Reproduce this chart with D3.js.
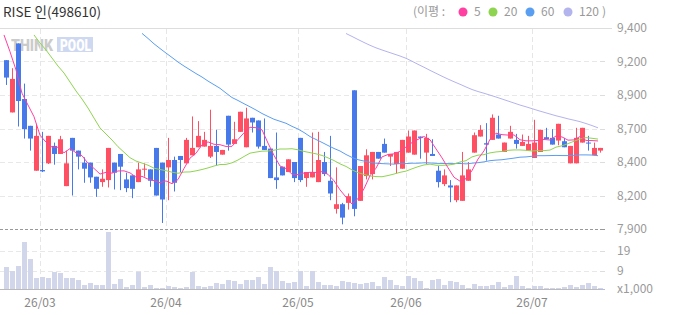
<!DOCTYPE html>
<html>
<head>
<meta charset="utf-8">
<script src="https://cdn.jsdelivr.net/npm/d3@7"></script>
<style>
  html, body { margin: 0; padding: 0; background: #fff; }
  svg { display: block; font-family: "Noto Sans CJK KR", "Noto Sans", sans-serif; }
</style>
</head>
<body>
<svg id="chart" width="673" height="315"></svg>
<script>
// trading days shown on the chart
const dates = [
  "2026-02-20","2026-02-23","2026-02-24","2026-02-25","2026-02-26","2026-02-27",
  "2026-03-03","2026-03-04","2026-03-05","2026-03-06","2026-03-09","2026-03-10","2026-03-11","2026-03-12","2026-03-13","2026-03-16","2026-03-17","2026-03-18","2026-03-19","2026-03-20","2026-03-23","2026-03-24","2026-03-25","2026-03-26","2026-03-27","2026-03-30","2026-03-31",
  "2026-04-01","2026-04-02","2026-04-03","2026-04-06","2026-04-07","2026-04-08","2026-04-09","2026-04-10","2026-04-13","2026-04-14","2026-04-15","2026-04-16","2026-04-17","2026-04-20","2026-04-21","2026-04-22","2026-04-23","2026-04-24","2026-04-27","2026-04-28","2026-04-29","2026-04-30",
  "2026-05-04","2026-05-06","2026-05-07","2026-05-08","2026-05-11","2026-05-12","2026-05-13","2026-05-14","2026-05-15","2026-05-18","2026-05-19","2026-05-20","2026-05-21","2026-05-22","2026-05-26","2026-05-27","2026-05-28","2026-05-29",
  "2026-06-01","2026-06-02","2026-06-04","2026-06-05","2026-06-08","2026-06-09","2026-06-10","2026-06-11","2026-06-12","2026-06-15","2026-06-16","2026-06-17","2026-06-18","2026-06-19","2026-06-22","2026-06-23","2026-06-24","2026-06-25","2026-06-26","2026-06-29","2026-06-30",
  "2026-07-01","2026-07-02","2026-07-03","2026-07-06","2026-07-07","2026-07-08","2026-07-09","2026-07-10","2026-07-13","2026-07-14","2026-07-15","2026-07-16"
];

const opens = [
  9160,8770,9285,8870,8670,8335,8340,8390,8520,8460,
  8220,8580,8485,8395,8395,8290,8250,8265,8395,8460,
  8270,8300,8250,8345,8345,8505,8395,8360,8415,8445,
  8390,8450,8510,8515,8440,8520,8455,8745,8535,8625,
  8510,8730,8710,8520,8500,8285,8365,8325,8400,8580,
  8280,8285,8250,8400,8260,8050,8085,8095,8935,8110,
  8295,8310,8475,8535,8440,8385,8350,8470,8455,8590,
  8470,8460,8335,8235,8225,8115,8110,8260,8470,8590,
  8540,8565,8605,8475,8575,8565,8520,8485,8430,8475,
  8585,8580,8560,8555,8390,8390,8545,8545,8450,8485
];
const highs = [
  9160,9100,9285,8985,8670,8685,8625,8595,8545,8595,
  8485,8580,8485,8435,8395,8290,8345,8505,8395,8460,
  8320,8300,8395,8390,8345,8505,8395,8580,8440,8445,
  8580,8740,8705,8625,8790,8640,8490,8745,8700,8775,
  8805,8730,8710,8725,8500,8620,8365,8420,8400,8580,
  8325,8620,8625,8475,8595,8360,8095,8165,8935,8370,
  8495,8475,8475,8575,8460,8475,8565,8635,8635,8590,
  8610,8570,8370,8345,8265,8225,8475,8400,8620,8675,
  8690,8755,8745,8545,8670,8610,8605,8595,8715,8640,
  8655,8645,8685,8580,8520,8655,8655,8595,8545,8505
];
const lows = [
  8975,8770,8665,8575,8485,8335,8325,8385,8380,8460,
  8220,8150,8345,8245,8245,8140,8215,8210,8195,8190,
  8175,8130,8250,8290,8215,8150,7945,8115,8180,8325,
  8390,8450,8510,8515,8430,8375,8455,8485,8535,8625,
  8510,8620,8500,8490,8280,8200,8300,8325,8250,8250,
  8215,8285,8250,8295,8115,8015,7935,8045,7995,8110,
  8270,8270,8425,8470,8370,8315,8350,8470,8455,8425,
  8385,8445,8210,8220,8100,8100,8110,8260,8470,8590,
  8410,8565,8575,8475,8575,8500,8520,8485,8430,8475,
  8570,8530,8525,8510,8390,8390,8545,8485,8450,8470
];
const closes = [
  9030,9020,8855,8645,8575,8595,8330,8595,8460,8570,
  8390,8485,8440,8350,8285,8200,8275,8505,8320,8365,
  8205,8200,8345,8350,8260,8150,8120,8415,8245,8415,
  8565,8505,8595,8565,8520,8475,8490,8530,8570,8775,
  8725,8695,8515,8490,8280,8265,8300,8420,8280,8265,
  8325,8325,8415,8310,8165,8085,7985,8145,8050,8370,
  8450,8475,8425,8470,8460,8475,8565,8590,8635,8580,
  8580,8445,8250,8300,8210,8225,8300,8345,8600,8640,
  8530,8730,8575,8545,8625,8535,8550,8535,8545,8640,
  8570,8530,8685,8510,8520,8580,8655,8540,8505,8505
];
// volume, thousands of shares
const volumes = [
  11,9,11.5,23.5,15,5.5,6,5.5,8.5,8,
  5.5,5.5,4.5,2,3,2,2,28.5,2.5,5,
  1,2,8.7,1,2,0.5,0.5,1.5,1,0.5,
  1,8.5,1.5,1,1.5,3,2.5,4.5,4,2.5,
  4.5,4.5,6,2.5,11,9,4,3,3.5,9,
  1.5,9,3.5,2,2,1.5,4,3.5,3,2.5,
  3,3.5,1.5,6,4.5,2,1.5,6.5,5.5,4,
  0.5,4.5,5,2,4,3.5,2,0.5,2.5,1.5,
  1.5,2,3.5,1,2,6.5,1.5,0.5,1.5,1.5,
  0.5,0.5,0.5,1,2,1,2,3,1.5,0.5
];

// moving averages as drawn (null = not shown)
const ma5 = [
  9348,9223,9087,8913,8825,8738,8600,8548,8511,8510,
  8469,8500,8469,8447,8390,8352,8310,8323,8317,8333,
  8334,8319,8287,8293,8272,8261,8245,8259,8238,8269,
  8352,8429,8465,8529,8550,8532,8529,8516,8517,8568,
  8618,8659,8656,8640,8541,8449,8370,8351,8309,8306,
  8318,8323,8322,8328,8308,8260,8192,8138,8086,8127,
  8200,8298,8354,8438,8456,8461,8479,8512,8545,8569,
  8590,8566,8498,8431,8357,8286,8257,8276,8336,8422,
  8483,8569,8615,8604,8601,8602,8566,8558,8558,8561,
  8568,8564,8594,8587,8563,8565,8590,8561,8560,8557
];
const ma20 = [
  null,null,null,null,null,9348,9288,9236,9176,9116,
  9064,8997,8930,8870,8803,8728,8654,8609,8564,8514,
  8473,8432,8407,8392,8376,8354,8344,8335,8324,8316,
  8325,8326,8334,8344,8356,8370,8381,8382,8394,8415,
  8441,8466,8474,8481,8482,8488,8497,8497,8499,8491,
  8479,8470,8461,8449,8431,8411,8386,8367,8341,8321,
  8307,8296,8291,8290,8299,8310,8323,8332,8349,8365,
  8378,8384,8376,8375,8377,8384,8400,8410,8438,8451,
  8455,8468,8475,8479,8487,8490,8490,8487,8482,8485,
  8485,8489,8511,8521,8537,8555,8572,8582,8577,8571
];
const ma60 = [
  null,null,null,null,null,null,null,null,null,null,
  null,null,null,null,null,null,null,null,null,null,
  null,null,null,9360,9322,9282,9247,9213,9180,9146,
  9116,9088,9060,9034,9004,8977,8950,8915,8881,8859,
  8835,8812,8788,8762,8740,8719,8704,8689,8666,8646,
  8620,8590,8568,8546,8523,8501,8482,8456,8434,8417,
  8407,8398,8391,8388,8386,8384,8388,8388,8391,8391,
  8394,8393,8390,8389,8388,8388,8389,8386,8391,8395,
  8401,8410,8414,8417,8423,8429,8436,8438,8443,8447,
  8447,8448,8449,8448,8448,8450,8453,8453,8452,8447
];
const ma120 = [
  null,null,null,null,null,null,null,null,null,null,
  null,null,null,null,null,null,null,null,null,null,
  null,null,null,null,null,null,null,null,null,null,
  null,null,null,null,null,null,null,null,null,null,
  null,null,null,null,null,null,null,null,null,null,
  null,null,null,null,null,null,null,9359,9337,9314,
  9292,9271,9252,9236,9221,9206,9191,9174,9152,9129,
  9107,9084,9062,9040,9019,8999,8980,8960,8941,8926,
  8913,8899,8885,8870,8855,8840,8825,8812,8798,8784,
  8771,8758,8745,8734,8722,8712,8701,8687,8672,8655
];

const priceTicks = [9400, 9150, 8900, 8650, 8400, 8150, 7900];
const priceTickLabels = ["9,400", "9,200", "8,900", "8,700", "8,400", "8,200", "7,900"];
const volumeTicks = [19, 9];
const volumeTickLabels = ["19", "9"];
const monthTicks = ["2026-03-03", "2026-04-01", "2026-05-04", "2026-06-01", "2026-07-01"];
const monthLabels = ["26/03", "26/04", "26/05", "26/06", "26/07"];
const maNames = ["5", "20", "60", "120"];

const maColors = ["#ff3fa2", "#8fd450", "#5a9ef2", "#b3b3ee"];
const upColor = "#ff4f63";
const downColor = "#4779ea";

const plotRight = 604;
const barW = 5;

const svg = d3.select("#chart");

const x = d3.scalePoint().domain(dates).range([4, 598]);
const y = d3.scaleLinear().domain([7900, 9400]).range([229, 28]);
const yVol = d3.scaleLinear().domain([0, 30]).range([289, 229]);
const crisp = v => Math.round(v) + 0.5;

// watermark
const wm = svg.append("g").attr("opacity", 0.6);
wm.append("text")
    .attr("x", 11).attr("y", 51)
    .attr("font-family", "Roboto, sans-serif")
    .attr("font-size", "17px").attr("font-weight", "900")
    .attr("textLength", 42).attr("lengthAdjust", "spacingAndGlyphs")
    .attr("fill", "#a9a9a9")
    .text("THINK");
wm.append("rect")
    .attr("x", 57).attr("y", 37).attr("width", 36).attr("height", 15)
    .attr("fill", "#aec0e8");
wm.append("text")
    .attr("x", 60).attr("y", 51)
    .attr("font-family", "Roboto, sans-serif")
    .attr("font-size", "17px").attr("font-weight", "900")
    .attr("textLength", 31).attr("lengthAdjust", "spacingAndGlyphs")
    .attr("fill", "#ffffff")
    .text("POOL");

// grid
const grid = svg.append("g");
grid.selectAll(".hgrid")
    .data(priceTicks.slice(1, -1))
    .enter().append("line")
    .attr("x1", 0).attr("x2", plotRight)
    .attr("y1", d => crisp(y(d))).attr("y2", d => crisp(y(d)))
    .attr("stroke", "#e8e8e8").attr("stroke-dasharray", "5,3");
grid.selectAll(".vgrid-vol")
    .data(volumeTicks)
    .enter().append("line")
    .attr("x1", 0).attr("x2", plotRight)
    .attr("y1", d => crisp(yVol(d))).attr("y2", d => crisp(yVol(d)))
    .attr("stroke", "#e8e8e8").attr("stroke-dasharray", "5,3");
grid.selectAll(".vgrid")
    .data(monthTicks)
    .enter().append("line")
    .attr("x1", d => crisp(x(d))).attr("x2", d => crisp(x(d)))
    .attr("y1", 29).attr("y2", yVol(0))
    .attr("stroke", "#e6e6e6").attr("stroke-dasharray", "5,3");

// header and separators
svg.append("line")
    .attr("x1", 0).attr("x2", 612)
    .attr("y1", 28.5).attr("y2", 28.5)
    .attr("stroke", "#dddddd");
svg.append("line")
    .attr("x1", 0).attr("x2", plotRight)
    .attr("y1", crisp(y(7900))).attr("y2", crisp(y(7900)))
    .attr("stroke", "#999").attr("stroke-dasharray", "3,2");
svg.append("line")
    .attr("x1", 0).attr("x2", plotRight)
    .attr("y1", crisp(yVol(0))).attr("y2", crisp(yVol(0)))
    .attr("stroke", "#bbbbbb");

// volume bars
svg.append("g").selectAll("rect")
    .data(dates)
    .enter().append("rect")
    .attr("x", d => x(d))
    .attr("width", barW)
    .attr("y", (d, i) => yVol(volumes[i]))
    .attr("height", (d, i) => yVol(0) - yVol(volumes[i]))
    .attr("fill", "#d2d6ea");

// candles
const candles = svg.append("g").selectAll("g")
    .data(dates)
    .enter().append("g")
    .attr("fill", (d, i) => closes[i] >= opens[i] ? upColor : downColor);
candles.append("rect")
    .attr("x", d => x(d) + 2)
    .attr("width", 1)
    .attr("y", (d, i) => y(highs[i]))
    .attr("height", (d, i) => y(lows[i]) - y(highs[i]));
candles.append("rect")
    .attr("x", d => x(d))
    .attr("width", barW)
    .attr("y", (d, i) => y(Math.max(opens[i], closes[i])))
    .attr("height", (d, i) => Math.max(1, Math.abs(y(opens[i]) - y(closes[i]))));

// moving averages
const maSeries = [ma5, ma20, ma60, ma120];
const line = d3.line()
    .defined(d => d.v != null)
    .x(d => x(d.date))
    .y(d => y(d.v));
[3, 2, 1, 0].forEach(k => {
    svg.append("path")
        .datum(dates.map((date, i) => ({ date: date, v: maSeries[k][i] })))
        .attr("d", line)
        .attr("fill", "none")
        .attr("stroke", maColors[k])
        .attr("stroke-width", 1);
});

// right axis
const axis = svg.append("g").attr("font-size", "12px").attr("fill", "#9a9a9a");
axis.selectAll(".ptick")
    .data(priceTicks)
    .enter().append("line")
    .attr("x1", 600).attr("x2", 605)
    .attr("y1", d => crisp(y(d))).attr("y2", d => crisp(y(d)))
    .attr("stroke", d => d === 7900 ? "#999" : "#dddddd");
axis.selectAll(".plabel")
    .data(priceTicks)
    .enter().append("text")
    .attr("x", 617)
    .attr("y", d => y(d))
    .attr("dy", "0.35em")
    .text((d, i) => priceTickLabels[i]);
axis.selectAll(".vtick")
    .data(volumeTicks.concat([0]))
    .enter().append("line")
    .attr("x1", 600).attr("x2", 605)
    .attr("y1", d => crisp(yVol(d))).attr("y2", d => crisp(yVol(d)))
    .attr("stroke", d => d === 0 ? "#b8bde0" : "#dddddd");
axis.selectAll(".vlabel")
    .data(volumeTicks)
    .enter().append("text")
    .attr("x", 617)
    .attr("y", d => yVol(d))
    .attr("dy", "0.35em")
    .text((d, i) => volumeTickLabels[i]);
axis.append("text")
    .attr("x", 617)
    .attr("y", yVol(0))
    .attr("dy", "0.35em")
    .text("x1,000");

// month labels
svg.append("g").selectAll("text")
    .data(monthTicks)
    .enter().append("text")
    .attr("x", d => x(d))
    .attr("y", 307)
    .attr("text-anchor", "middle")
    .attr("font-size", "12px")
    .attr("fill", "#888")
    .text((d, i) => monthLabels[i]);

// title
svg.append("text")
    .attr("x", 3).attr("y", 17)
    .attr("font-size", "13.5px")
    .attr("fill", "#333")
    .text("RISE 인(498610)");

// legend
const legend = svg.append("g").attr("font-size", "12px").attr("fill", "#999");
legend.append("text").attr("x", 413).attr("y", 16).text("(이평 :");
const legendDotX = [463, 493, 530, 568];
legendDotX.forEach((lx, k) => {
    legend.append("circle")
        .attr("cx", lx).attr("cy", 12).attr("r", 4.5)
        .attr("fill", maColors[k]);
    legend.append("text")
        .attr("x", lx + 11).attr("y", 16)
        .text(maNames[k]);
});
legend.append("text").attr("x", 602).attr("y", 16).text(")");
</script>
</body>
</html>
